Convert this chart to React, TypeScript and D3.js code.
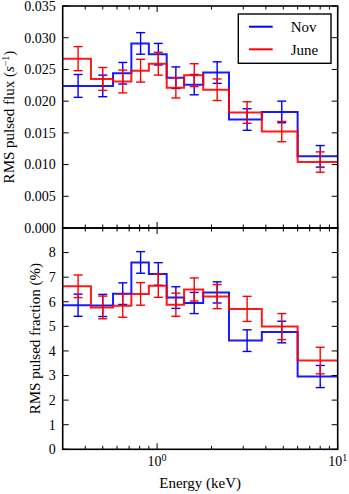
import React from "react";
import * as d3 from "d3";

const binEdges = [0.3, 0.43, 0.57, 0.72, 0.9, 1.13, 1.41, 1.8, 2.5, 3.8, 6.0, 10];
const binCenters = [0.365, 0.5, 0.645, 0.81, 1.015, 1.27, 1.605, 2.15, 3.15, 4.9, 8.0];

const fluxNov = [0.0224, 0.0224, 0.0244, 0.0291, 0.0274, 0.0237, 0.0226, 0.0245, 0.0171, 0.0183, 0.0113];
const fluxNovErr = [0.0018, 0.0017, 0.0017, 0.0017, 0.0017, 0.0017, 0.0016, 0.0017, 0.0017, 0.0017, 0.0017];
const fluxJune = [0.0267, 0.0235, 0.0231, 0.0248, 0.0259, 0.0221, 0.0241, 0.0218, 0.0182, 0.0152, 0.0104];
const fluxJuneErr = [0.0019, 0.0018, 0.0018, 0.0018, 0.0018, 0.0016, 0.0018, 0.0017, 0.0017, 0.0016, 0.0016];

const fracNov = [5.86, 5.85, 6.33, 7.6, 7.13, 6.17, 5.95, 6.38, 4.42, 4.77, 2.96];
const fracNovErr = [0.45, 0.45, 0.44, 0.44, 0.46, 0.44, 0.43, 0.43, 0.44, 0.44, 0.45];
const fracJune = [6.63, 5.77, 5.84, 6.32, 6.65, 5.88, 6.5, 6.21, 5.71, 4.99, 3.61];
const fracJuneErr = [0.46, 0.46, 0.47, 0.46, 0.47, 0.47, 0.47, 0.49, 0.51, 0.53, 0.54];

const fluxTicks = [0, 0.005, 0.01, 0.015, 0.02, 0.025, 0.03, 0.035];
const fracTicks = [0, 1, 2, 3, 4, 5, 6, 7, 8];
const seriesNames = ["Nov", "June"];
const seriesColors = ["#0000ff", "#ff0000"];

const W = 349;
const H = 494;
const L = 62.7;
const R = 337.7;
const TOP1 = 6;
const BOT1 = 228;
const TOP2 = 228;
const BOT2 = 449.3;
const FONT = "Liberation Serif, serif";

const x = d3.scaleLog().domain([0.3, 10]).range([L, R]);
const yFlux = d3.scaleLinear().domain([0, 0.035]).range([BOT1, TOP1]);
const yFrac = d3.scaleLinear().domain([0, 9]).range([BOT2, TOP2]);

const minorX = [0.4, 0.5, 0.6, 0.7, 0.8, 0.9, 2, 3, 4, 5, 6, 7, 8, 9];
const majorX = [1, 10];

function stepPath(vals: number[], y: d3.ScaleLinear<number, number>) {
  const pts: [number, number][] = vals.map((v, i) => [binEdges[i], v]);
  pts.push([binEdges[binEdges.length - 1], vals[vals.length - 1]]);
  const line = d3
    .line<[number, number]>()
    .x((d) => x(d[0]))
    .y((d) => y(d[1]))
    .curve(d3.curveStepAfter);
  return line(pts) || "";
}

function Series({ vals, errs, y, color }: { vals: number[]; errs: number[]; y: any; color: string }) {
  const cap = 4.5;
  return (
    <g>
      <path d={stepPath(vals, y)} fill="none" stroke={color} strokeWidth={2} strokeOpacity={0.9} />
      {vals.map((v, i) => {
        const cx = x(binCenters[i]);
        const y1 = y(v + errs[i]);
        const y0 = y(v - errs[i]);
        return (
          <g key={i} stroke={color} strokeWidth={1.4}>
            <line x1={cx} x2={cx} y1={y1} y2={y0} />
            <line x1={cx - cap} x2={cx + cap} y1={y1} y2={y1} />
            <line x1={cx - cap} x2={cx + cap} y1={y0} y2={y0} />
          </g>
        );
      })}
    </g>
  );
}

function Frame({ y, top, bot, yTicks, fmt }: { y: any; top: number; bot: number; yTicks: number[]; fmt: (v: number) => string }) {
  const maj = 6;
  const mnr = 3.5;
  return (
    <g>
      {majorX.map((v) => (
        <g key={"mx" + v} stroke="#000" strokeWidth={1}>
          <line x1={x(v)} x2={x(v)} y1={bot} y2={bot - maj} />
          <line x1={x(v)} x2={x(v)} y1={top} y2={top + maj} />
        </g>
      ))}
      {minorX.map((v) => (
        <g key={"nx" + v} stroke="#000" strokeWidth={1}>
          <line x1={x(v)} x2={x(v)} y1={bot} y2={bot - mnr} />
          <line x1={x(v)} x2={x(v)} y1={top} y2={top + mnr} />
        </g>
      ))}
      {yTicks.map((v) => (
        <g key={"y" + v}>
          <line x1={L} x2={L + maj} y1={y(v)} y2={y(v)} stroke="#000" strokeWidth={1} />
          <line x1={R} x2={R - maj} y1={y(v)} y2={y(v)} stroke="#000" strokeWidth={1} />
          <text x={L - 7} y={y(v)} dy="0.35em" textAnchor="end" fontFamily={FONT} fontSize={14}>
            {fmt(v)}
          </text>
        </g>
      ))}
      <rect x={L} y={top} width={R - L} height={bot - top} fill="none" stroke="#000" strokeWidth={1.6} />
    </g>
  );
}

export default function App() {
  const fmtFlux = d3.format(".3f");
  const fmtFrac = d3.format("d");
  return (
    <svg width={W} height={H} style={{ position: "absolute", left: 0, top: 0, background: "#fff" }}>
      <rect x={0} y={0} width={W} height={H} fill="#fff" />
      {/* top panel */}
      <Series vals={fluxNov} errs={fluxNovErr} y={yFlux} color={seriesColors[0]} />
      <Series vals={fluxJune} errs={fluxJuneErr} y={yFlux} color={seriesColors[1]} />
      <Frame y={yFlux} top={TOP1} bot={BOT1} yTicks={fluxTicks} fmt={fmtFlux} />
      {/* bottom panel */}
      <Series vals={fracNov} errs={fracNovErr} y={yFrac} color={seriesColors[0]} />
      <Series vals={fracJune} errs={fracJuneErr} y={yFrac} color={seriesColors[1]} />
      <Frame y={yFrac} top={TOP2} bot={BOT2} yTicks={fracTicks} fmt={fmtFrac} />
      {/* x tick labels */}
      {majorX.map((v) => (
        <text key={"xl" + v} x={x(v)} y={466} textAnchor="middle" fontFamily={FONT} fontSize={14}>
          10
          <tspan dy={-5} fontSize={10}>
            {v === 1 ? "0" : "1"}
          </tspan>
        </text>
      ))}
      <text x={(L + R) / 2} y={488} textAnchor="middle" fontFamily={FONT} fontSize={15}>
        Energy (keV)
      </text>
      {/* y labels */}
      <text transform={`translate(14,${(TOP1 + BOT1) / 2}) rotate(-90)`} textAnchor="middle" fontFamily={FONT} fontSize={15}>
        RMS pulsed flux (
        <tspan fontStyle="italic">s</tspan>
        <tspan dy={-5} fontSize={10}>−1</tspan>
        <tspan dy={5}>)</tspan>
      </text>
      <text transform={`translate(40,${(TOP2 + BOT2) / 2}) rotate(-90)`} textAnchor="middle" fontFamily={FONT} fontSize={15}>
        RMS pulsed fraction (%)
      </text>
      {/* legend */}
      <g>
        <rect x={238.3} y={14} width={92.7} height={49.3} fill="#fff" stroke="#000" strokeWidth={1.4} />
        {seriesNames.map((n, i) => (
          <g key={n}>
            <line x1={249} x2={272.7} y1={26.7 + i * 22.6} y2={26.7 + i * 22.6} stroke={seriesColors[i]} strokeWidth={2} />
            <text x={290.7} y={26.7 + i * 22.6} dy="0.35em" fontFamily={FONT} fontSize={15}>
              {n}
            </text>
          </g>
        ))}
      </g>
    </svg>
  );
}
